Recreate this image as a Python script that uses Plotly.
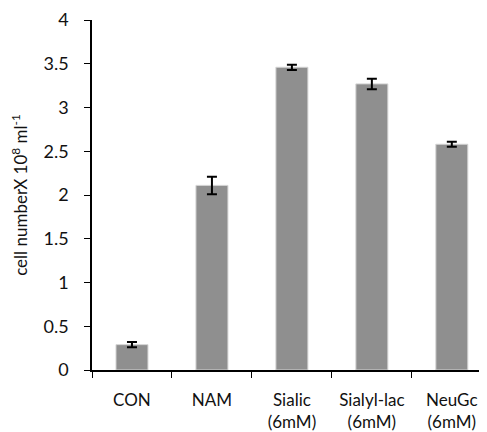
import plotly.graph_objects as go

categories = ["CON", "NAM", "Sialic<br>(6mM)", "Sialyl-lac<br>(6mM)", "NeuGc<br>(6mM)"]
values = [0.29, 2.11, 3.46, 3.27, 2.58]
errors = [0.03, 0.10, 0.03, 0.06, 0.03]
y_ticks = [0, 0.5, 1, 1.5, 2, 2.5, 3, 3.5, 4]
y_tick_labels = ["0", "0.5", "1", "1.5", "2", "2.5", "3", "3.5", "4"]

fig = go.Figure()
fig.add_trace(go.Bar(
    x=categories, y=values,
    marker=dict(color="#8f8f8f", line=dict(color="#d4d4d4", width=1)),
    error_y=dict(type="data", array=errors, visible=True, color="#000000",
                 thickness=2, width=5),
    width=0.4,
))

fig.update_layout(
    width=479, height=424,
    margin=dict(l=84, r=0, t=12, b=62),
    paper_bgcolor="white", plot_bgcolor="white",
    font=dict(family="Lato, 'Open Sans', sans-serif", size=17, color="#111111"),
    showlegend=False,
    xaxis=dict(
        showline=True, linecolor="black", linewidth=1.5,
        ticks="outside", tickson="boundaries", ticklen=6, tickcolor="black",
        ticklabelstandoff=14,
        range=[-0.5, 4.44], showgrid=False, zeroline=False,
        tickfont=dict(size=17),
    ),
    yaxis=dict(
        range=[0, 4], tickvals=y_ticks, ticktext=y_tick_labels,
        showline=True, linecolor="black", linewidth=1.5,
        ticks="outside", ticklen=6, tickcolor="black",
        ticklabelstandoff=12,
        showgrid=False, zeroline=False,
        tickfont=dict(size=18),
        title=dict(text="cell numberX 10<sup>8</sup> ml<sup>-1</sup>",
                   font=dict(size=17), standoff=14),
    ),
)

fig.write_html("out.html")
